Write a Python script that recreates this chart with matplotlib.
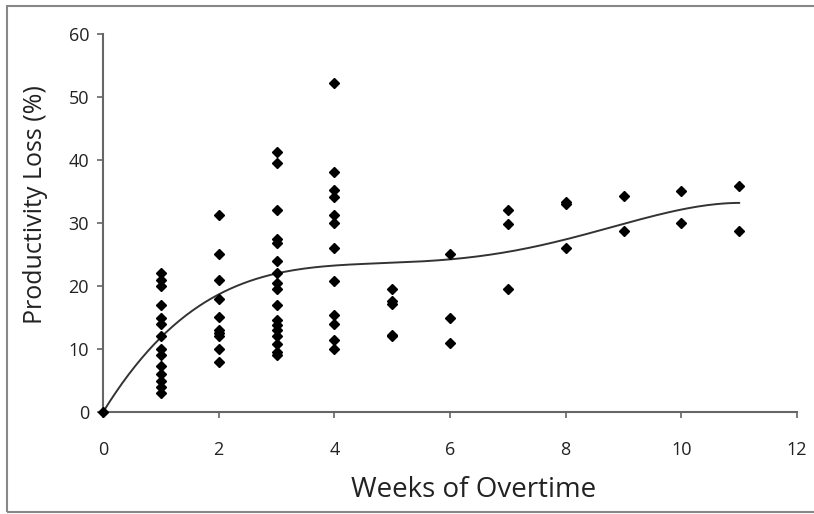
import numpy as np
import matplotlib.pyplot as plt
from matplotlib.patches import Rectangle

plt.rcParams['font.family'] = ['Open Sans', 'DejaVu Sans']

# Productivity loss (%), grouped by weeks of overtime
weeks = [0, 1, 2, 3, 4, 5, 6, 7, 8, 9, 10, 11]
loss = [
    [0],
    [22, 21, 20, 17, 15, 14, 12, 10, 9, 7.3, 6, 5, 4, 3],
    [31.2, 25.1, 21, 18, 15.1, 13, 12.5, 12, 10, 8],
    [41.2, 39.5, 32.1, 27.5, 26.8, 24, 22, 20.5, 19.5, 17, 14.6, 13.8, 13, 12, 10.8, 9.5, 9],
    [52.2, 38.1, 35.2, 34.2, 31.2, 30, 26, 20.8, 15.4, 14, 11.5, 10],
    [19.6, 17.6, 17.2, 12.2, 12],
    [25.1, 15, 11],
    [32.1, 29.9, 19.6],
    [33.4, 33, 26],
    [34.3, 28.8],
    [35.1, 30],
    [35.8, 28.8],
]

# trend curve
trend_x = [0, 0.5, 1, 1.5, 2, 2.5, 3, 3.5, 4, 5, 6, 7, 8, 9, 10, 11]
trend_y = [0, 6.5, 12, 15.8, 18.6, 20.6, 22, 22.8, 23.3, 23.7, 24.2, 25.4, 27.4, 29.9, 32.1, 33.2]

xs = np.concatenate([[w] * len(v) for w, v in zip(weeks, loss)])
ys = np.concatenate(loss)

fig = plt.figure(figsize=(8.14, 5.14), dpi=100)
W, H = 814, 514
ax = fig.add_axes([103 / W, 1 - 412 / H, 694 / W, 378 / H])

# smooth the read trend points with a polynomial, like the spreadsheet trendline
coef = np.polyfit(trend_x, trend_y, 6)
xx = np.linspace(0, 11, 200)
ax.plot(xx, np.polyval(coef, xx), color='#333333', lw=1.4, zorder=2)
ax.plot(xs, ys, 'D', color='black', markersize=5, zorder=3, clip_on=False)

ax.set_xlim(0, 12)
ax.set_ylim(0, 60)
ax.set_xticks(range(0, 13, 2))
ax.set_yticks(range(0, 61, 10))
ax.spines['top'].set_visible(False)
ax.spines['right'].set_visible(False)
for s in ('left', 'bottom'):
    ax.spines[s].set_color('#666666')
    ax.spines[s].set_linewidth(1.5)
ax.tick_params(direction='out', length=4, width=1.2, color='#666666', labelsize=13, labelcolor='#222222')
ax.tick_params(axis='x', pad=17)
ax.tick_params(axis='y', pad=6)

fig.text(474 / W, 1 - 490 / H, 'Weeks of Overtime', fontsize=20, ha='center', va='center', color='#222222')
fig.text(36 / W, 1 - 205 / H, 'Productivity Loss (%)', fontsize=18, rotation=90,
         ha='center', va='center', color='#222222')

# outer frame around the whole chart
fig.patches.append(Rectangle((7 / W, 2 / H), 820 / W, 506 / H, transform=fig.transFigure,
                             fill=False, edgecolor='#888888', lw=1.5))

fig.savefig('out.png', dpi=100)
